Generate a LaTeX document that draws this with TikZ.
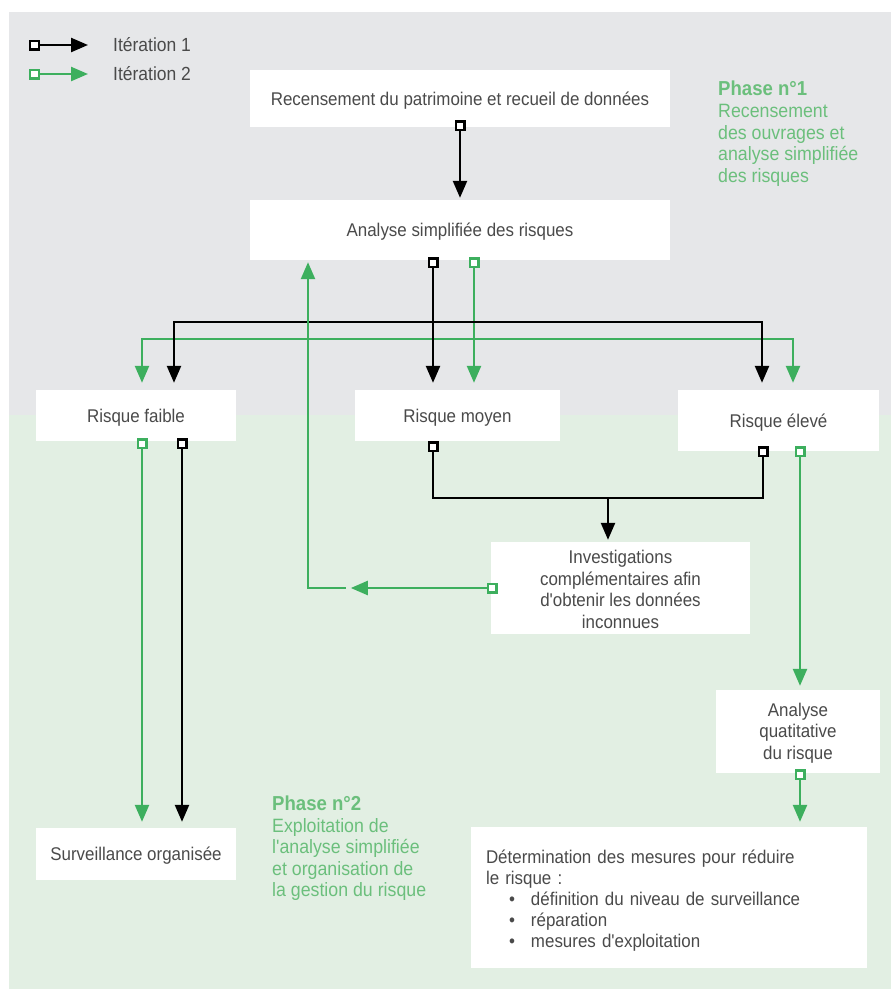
\documentclass[tikz,border=0pt]{standalone}
\usepackage{fontspec}
\setmainfont{Liberation Sans}[Ligatures=TeXOff, FakeStretch=0.92]
\usetikzlibrary{arrows.meta,calc}
\definecolor{bggray}{HTML}{E6E7E9}
\definecolor{bggreen}{HTML}{E2EFE3}
\definecolor{txt}{HTML}{4A4A4A}
\definecolor{grnline}{HTML}{3DAF5E}
\definecolor{grntxt}{HTML}{6BBF7C}
\tikzset{
  Sq/.tip={Square[fill=white,length=11pt,width=11pt,line width=2.4pt]},
  Tri/.tip={Triangle[length=17pt,width=14pt]},
  box/.style={fill=white, inner sep=0pt, text=txt, font=\fontsize{18.4}{21.5}\selectfont, align=center},
  one/.style={text depth=0pt},
  blk/.style={draw=black, line width=2.4pt},
  grn/.style={draw=grnline, line width=2.4pt},
  legtext/.style={text=txt, inner sep=0pt, font=\fontsize{19}{21}\selectfont},
  phtitle/.style={text=grntxt, inner sep=0pt, font=\fontsize{20.2}{22}\selectfont\bfseries},
  phbody/.style={text=grntxt, inner sep=0pt, align=left, font=\fontsize{19.3}{21.6}\selectfont},
}
\begin{document}
\begin{tikzpicture}[x=1pt,y=-1pt]
\useasboundingbox (0,0) rectangle (891,989);
\fill[bggray] (9,12) rectangle (891,415);
\fill[bggreen] (9,415) rectangle (891,989);

% legend
\node[legtext, anchor=west] (leg1) at (113,45) {Itération 1};
\node[legtext, anchor=west] (leg2) at (113,74) {Itération 2};
\coordinate (lg1) at (29,45);
\coordinate (lg2) at (29,74);
\draw[blk, Sq-Tri] (lg1) -- ([xshift=-25pt]leg1.west);
\draw[grn, Sq-Tri] (lg2) -- ([xshift=-25pt]leg2.west);

% phase texts
\node[phtitle, anchor=west] (ph1) at (718,88) {Phase n°1};
\node[phbody, anchor=north west] (ph1b) at (718,104) {Recensement\\des ouvrages et\\analyse simplifiée\\des risques};
\node[phtitle, anchor=west] (ph2) at (272,803) {Phase n°2};
\node[phbody, anchor=north west] (ph2b) at (272,818) {Exploitation de\\l'analyse simplifiée\\et organisation de\\la gestion du risque};

% boxes
\node[box, one, minimum width=420pt, minimum height=57pt] (rec) at (460,98.5) {Recensement du patrimoine et recueil de données};
\node[box, one, minimum width=420pt, minimum height=60pt] (ana) at (460,230) {Analyse simplifiée des risques};
\node[box, one, minimum width=200pt, minimum height=51pt] (fai) at (136,415.5) {Risque faible};
\node[box, one, minimum width=205pt, minimum height=51pt] (moy) at (457.5,415.5) {Risque moyen};
\node[box, one, minimum width=201pt, minimum height=61pt] (ele) at (778.5,420.5) {Risque élevé};
\node[box, minimum width=259pt, minimum height=92pt] (inv) at (620.5,588) {\rule{0pt}{16pt}Investigations\\complémentaires afin\\d'obtenir les données\\inconnues};
\node[box, minimum width=164pt, minimum height=83pt] (qua) at (798,731.5) {\rule{0pt}{16pt}Analyse\\quatitative\\du risque};
\node[box, one, minimum width=200pt, minimum height=52pt] (sur) at (136,854) {Surveillance organisée};
\node[box, minimum width=396pt, minimum height=141pt, text width=366pt, inner xsep=15pt, align=left,
      font=\fontsize{18.4}{21}\selectfont] (det) at (669,897.5)
  {\rule{0pt}{19pt}Détermination des mesures pour réduire\\le risque :\\
   \makebox[45pt][l]{\hspace{23pt}•}définition du niveau de surveillance\\
   \makebox[45pt][l]{\hspace{23pt}•}réparation\\
   \makebox[45pt][l]{\hspace{23pt}•}mesures d'exploitation};

% junction coordinates
\coordinate (jb) at ([xshift=-27pt,yshift=-62pt]ana.south);
\coordinate (jg) at ([xshift=14pt,yshift=-79pt]ana.south);
\coordinate (jm) at ([xshift=-12.5pt,yshift=44pt]inv.north);
\coordinate (gap) at ([xshift=-145pt]inv.west);

% green connectors
\draw[grn, Sq-Tri] ([xshift=14pt,yshift=3pt]ana.south) -- ([xshift=16.5pt,yshift=7pt]moy.north);
\draw[grn, -Tri] (jg) -| ([xshift=6pt,yshift=7pt]fai.north);
\draw[grn, -Tri] (jg) -| ([xshift=14.5pt,yshift=7pt]ele.north);
\draw[grn, Sq-Tri] ([xshift=6pt,yshift=3pt]fai.south) -- ([xshift=6pt,yshift=6pt]sur.north);
\draw[grn, Sq-Tri] ([xshift=21.5pt,yshift=5pt]ele.south) -- ([xshift=2pt,yshift=4pt]qua.north);
\draw[grn, Sq-Tri] ([xshift=2pt,yshift=4pt]qua.south) -- ([xshift=131pt,yshift=5pt]det.north);
\draw[grn, Sq-Tri] ([xshift=7pt]inv.west) -- ([xshift=-140pt]inv.west);

% black connectors
\draw[blk, Sq-Tri] ([yshift=7pt]rec.south) -- ([yshift=2pt]ana.north);
\draw[blk, Sq-Tri] ([xshift=-27pt,yshift=3pt]ana.south) -- ([xshift=-24.5pt,yshift=7pt]moy.north);
\draw[blk, -Tri] (jb) -| ([xshift=38pt,yshift=7pt]fai.north);
\draw[blk, -Tri] (jb) -| ([xshift=-16.5pt,yshift=7pt]ele.north);
\draw[blk, Sq-Tri] ([xshift=46pt,yshift=3pt]fai.south) -- ([xshift=46pt,yshift=6pt]sur.north);
\draw[blk, Sq-] ([xshift=-24.5pt]moy.south) |- (jm);
\draw[blk, Sq-] ([xshift=-15.5pt,yshift=5pt]ele.south) |- (jm);
\draw[blk, -Tri] (jm) -- ([xshift=-12.5pt,yshift=2pt]inv.north);

% green feedback line
\draw[grn, -Tri] (gap) -| ([xshift=-152pt,yshift=-2pt]ana.south);
\end{tikzpicture}
\end{document}
